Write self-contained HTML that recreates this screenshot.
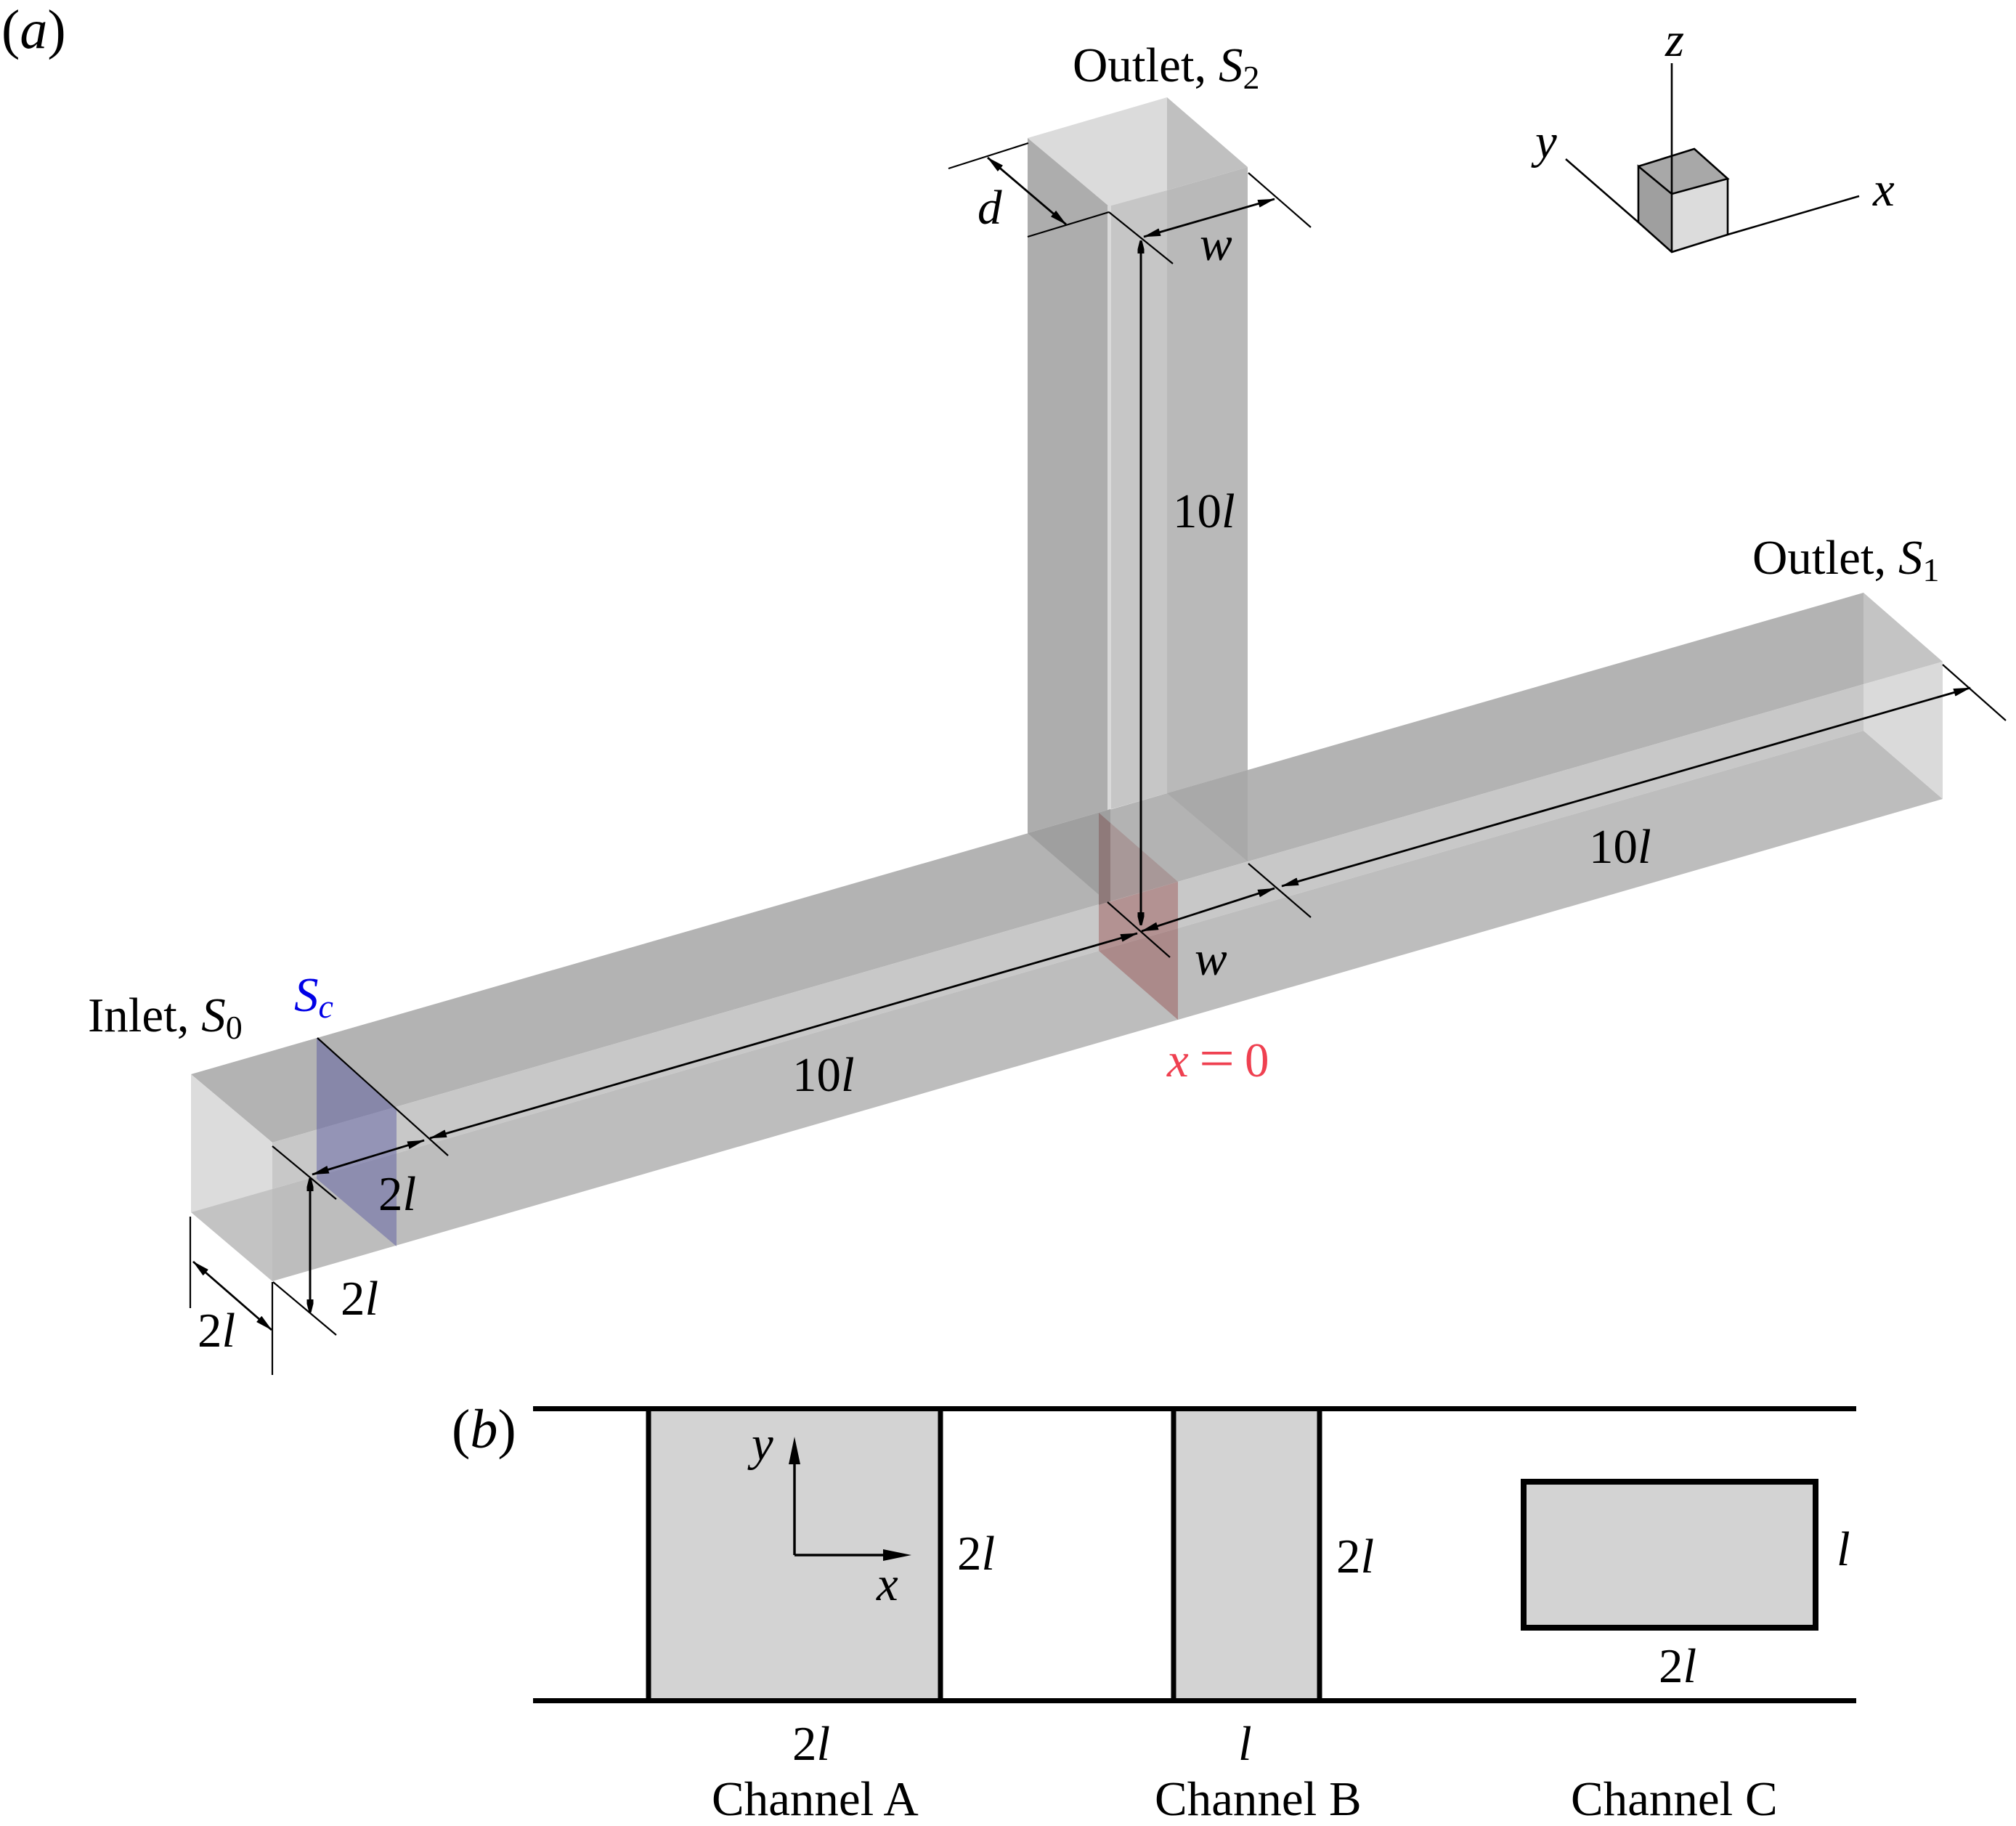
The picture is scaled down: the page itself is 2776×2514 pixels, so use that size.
<!DOCTYPE html>
<html><head><meta charset="utf-8"><style>
html,body{margin:0;padding:0;background:#fff}
svg{display:block}
text{font-family:"Liberation Serif",serif;font-size:67px;fill:#000}
.i{font-style:italic}
.s{font-size:46px}
.p{font-size:76px}
.t{stroke:#000;stroke-width:2.2;fill:none}
.d{stroke:#000;stroke-width:2.8;fill:none;marker-start:url(#a);marker-end:url(#a)}
.v{stroke:#000;stroke-width:3;fill:none;marker-start:url(#b);marker-end:url(#b)}
.e{stroke:#000;stroke-width:2.6;fill:none}
</style></head><body>
<svg width="2776" height="2514" viewBox="0 0 2776 2514" xmlns="http://www.w3.org/2000/svg">
<defs>
<marker id="a" viewBox="0 0 24 12" refX="23" refY="6" markerWidth="24" markerHeight="12" markerUnits="userSpaceOnUse" orient="auto-start-reverse"><path d="M0 0.5L24 6L0 11.5z" fill="#000"/></marker>
<marker id="b" viewBox="0 0 18 10" refX="17" refY="5" markerWidth="18" markerHeight="10" markerUnits="userSpaceOnUse" orient="auto-start-reverse"><path d="M0 0.5H6L18 3.5V6.5L6 9.5H0z" fill="#000"/></marker>
</defs>
<rect width="2776" height="2514" fill="#fff"/>

<!-- vertical duct -->
<polygon points="1415,190 1527,283 1529,1114 1415,1147" fill="#adadad"/>
<rect x="1525" y="283" width="5" height="832" fill="#d9d9d9"/>
<polygon points="1530,282 1607,262 1607,1092 1530,1114" fill="#c6c6c6"/>
<polygon points="1607,262 1718,230 1718,1060 1607,1092" fill="#b9b9b9"/>
<polygon points="1415,190 1607,134 1607,262 1527,284" fill="#dbdbdb"/>
<polygon points="1607,134 1718,230 1607,262" fill="#c0c0c0"/>

<!-- main channel -->
<polygon points="263,1479 2566,816 2566,942 375,1573" fill="#b3b3b3"/>
<polygon points="375,1573 2566,942 2566,1006 375,1637" fill="#c8c8c8"/>
<polygon points="375,1637 2566,1006 2675,1100 375,1764" fill="#bdbdbd"/>
<polygon points="263,1479 375,1573 375,1637 263,1669" fill="#dcdcdc"/>
<polygon points="263,1669 375,1637 375,1764" fill="#c3c3c3"/>
<polygon points="2566,816 2675,911 2566,942" fill="#c4c4c4"/>
<polygon points="2566,942 2675,911 2675,1100 2566,1006" fill="#dadada"/>

<!-- duct/channel overlap -->
<polygon points="1415,1147 1529,1114 1529,1241 1525,1242" fill="#9f9f9f"/>
<polygon points="1607,1092 1718,1060 1718,1186" fill="#a9a9a9"/>

<!-- planes -->
<polygon points="436,1429 546,1526 546,1716 436,1623" fill="#46469a" fill-opacity="0.4"/>
<polygon points="1513,1119 1529,1133 1529,1241 1513,1246" fill="#8f7a7a"/>
<polygon points="1529,1133 1622,1214 1529,1241" fill="#a89898"/>
<polygon points="1513,1246 1622,1214 1622,1278 1513,1309" fill="#b39292"/>
<polygon points="1513,1309 1622,1278 1622,1404" fill="#ab8a8a"/>

<!-- dimension lines -->
<path class="t" d="M437 1429L617 1591M375 1578L463 1651M1525 1242L1611 1318M1719 1189L1805 1263M1527 292L1615 363M1719 238L1805 313M1306 232L1416 197M1415 326L1527 292M2675 915L2762 992M262 1675V1801M375 1765V1893M376 1765L463 1838"/>
<line class="d" x1="430" y1="1617" x2="584" y2="1570"/>
<line class="d" x1="592" y1="1567" x2="1566" y2="1285"/>
<line class="d" x1="1572" y1="1282" x2="1755" y2="1223"/>
<line class="d" x1="1765" y1="1220" x2="2713" y2="947"/>
<line class="v" x1="1571" y1="1273" x2="1571" y2="332"/>
<line class="d" x1="1575" y1="326" x2="1755" y2="274"/>
<line class="d" x1="1360" y1="217" x2="1468" y2="309"/>
<line class="d" x1="266" y1="1737" x2="374" y2="1831"/>
<line class="v" x1="427" y1="1623" x2="427" y2="1806"/>

<!-- axes triad -->
<polygon points="2256,229 2333,205 2379,246 2302,267" fill="#a8a8a8"/>
<polygon points="2256,229 2302,267 2302,347 2256,306" fill="#9f9f9f"/>
<polygon points="2302,267 2379,246 2379,323 2302,347" fill="#dcdcdc"/>
<path class="e" d="M2302 87V347M2256 229L2333 205L2379 246L2302 267L2256 229V306L2302 347L2379 323V246M2302 267V347M2156 219L2256 306M2379 323L2560 270"/>

<!-- panel b -->
<rect x="893" y="1939" width="402" height="402" fill="#d3d3d3"/>
<rect x="1616" y="1939" width="201" height="402" fill="#d3d3d3"/>
<rect x="2098" y="2040" width="402" height="201" fill="#d3d3d3" stroke="#000" stroke-width="8"/>
<path d="M734 1939.5H2556M734 2341.5H2556M893 1939V2341M1295 1939V2341M1616 1939V2341M1817 1939V2341" stroke="#000" stroke-width="7" fill="none"/>
<path d="M1094 2141V2010M1094 2141H1220" stroke="#000" stroke-width="3.5" fill="none"/>
<polygon points="1094,1978 1086,2016 1102,2016" fill="#000"/>
<polygon points="1255,2141 1216,2133 1216,2149" fill="#000"/>

<!-- labels -->
<text class="p" x="2" y="66">(<tspan class="i">a</tspan>)</text>
<text x="1477" y="112">Outlet, <tspan class="i">S</tspan><tspan class="s" dy="10">2</tspan></text>
<text class="i" x="2293" y="77">z</text>
<text class="i" x="2114" y="217">y</text>
<text class="i" x="2579" y="283">x</text>
<text class="i" x="1346" y="308">d</text>
<text class="i" x="1652" y="358">w</text>
<text x="1615" y="726">10<tspan class="i">l</tspan></text>
<text x="2413" y="790">Outlet, <tspan class="i">S</tspan><tspan class="s" dy="10">1</tspan></text>
<text x="2188" y="1188">10<tspan class="i">l</tspan></text>
<text class="i" x="1645" y="1342">w</text>
<text class="i" x="1607" y="1482" style="fill:#ef4050">x</text>
<text transform="translate(1651,1482) scale(1.3,1.1)" x="0" y="0" style="fill:#ef4050">=</text>
<text x="1714" y="1482" style="fill:#ef4050">0</text>
<text x="1091" y="1502">10<tspan class="i">l</tspan></text>
<text x="121" y="1420">Inlet, <tspan class="i">S</tspan><tspan class="s" dy="10">0</tspan></text>
<text x="405" y="1392" style="fill:#0000e6"><tspan class="i" style="fill:#0000e6">S</tspan><tspan class="i s" dy="9" style="fill:#0000e6">c</tspan></text>
<text x="521" y="1666">2<tspan class="i">l</tspan></text>
<text x="469" y="1810">2<tspan class="i">l</tspan></text>
<text x="272" y="1854">2<tspan class="i">l</tspan></text>
<text class="p" x="622" y="1993">(<tspan class="i">b</tspan>)</text>
<text class="i" x="1035" y="2010">y</text>
<text class="i" x="1207" y="2203">x</text>
<text x="1318" y="2161">2<tspan class="i">l</tspan></text>
<text x="1840" y="2165">2<tspan class="i">l</tspan></text>
<text class="i" x="2529" y="2155">l</text>
<text x="2284" y="2316">2<tspan class="i">l</tspan></text>
<text x="1091" y="2423">2<tspan class="i">l</tspan></text>
<text class="i" x="1705" y="2423">l</text>
<text x="980" y="2499">Channel A</text>
<text x="1590" y="2499">Channel B</text>
<text x="2163" y="2499">Channel C</text>
</svg>
</body></html>
